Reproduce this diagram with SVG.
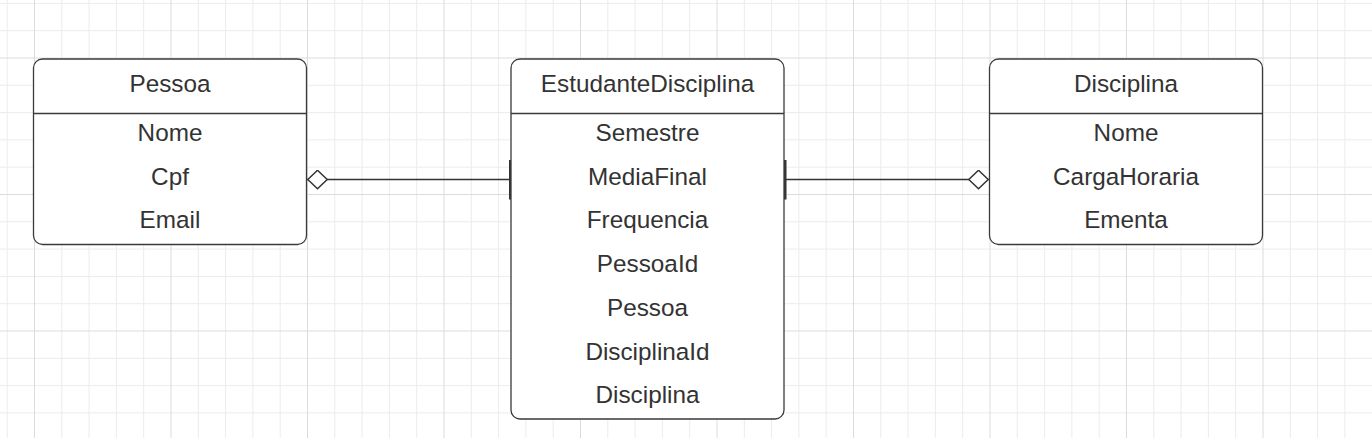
<svg xmlns="http://www.w3.org/2000/svg" width="1372" height="438" viewBox="0 0 1372 438">
<style>
.minor{stroke:#ececec;stroke-width:1;fill:none}
.major{stroke:#dcdcdc;stroke-width:1;fill:none}
.box{fill:#ffffff;stroke:#3a3a3a;stroke-width:1.3}
.div{stroke:#3a3a3a;stroke-width:1.3}
.t{font-family:"Liberation Sans",Arial,sans-serif;font-size:24.3px;fill:#333333;text-anchor:middle}
.conn{stroke:#333333;stroke-width:1.5;fill:none}
</style>
<defs>
<marker id="diamond" viewBox="0 0 21 20" refX="0.5" refY="10" markerWidth="21" markerHeight="20" markerUnits="userSpaceOnUse" orient="auto">
<path d="M0.8 10 L10.5 0.8 L20.2 10 L10.5 19.2 Z" fill="#ffffff" stroke="#333333" stroke-width="1.5"/>
</marker>
<marker id="bar" viewBox="0 0 3 40" refX="1.5" refY="20" markerWidth="3" markerHeight="40" markerUnits="userSpaceOnUse" orient="auto">
<rect x="0" y="0" width="3" height="40" fill="#333333"/>
</marker>
</defs>
<rect width="1372" height="438" fill="#ffffff"/>
<g id="grid">
<path class="minor" d="M7.2 0V438M61.8 0V438M89.1 0V438M116.4 0V438M143.7 0V438M198.3 0V438M225.6 0V438M252.9 0V438M280.2 0V438M334.8 0V438M362.1 0V438M389.4 0V438M416.7 0V438M471.3 0V438M498.6 0V438M525.9 0V438M553.2 0V438M607.8 0V438M635.1 0V438M662.4 0V438M689.7 0V438M744.3 0V438M771.6 0V438M798.9 0V438M826.2 0V438M880.8 0V438M908.1 0V438M935.4 0V438M962.7 0V438M1017.3 0V438M1044.6 0V438M1071.9 0V438M1099.2 0V438M1153.8 0V438M1181.1 0V438M1208.4 0V438M1235.7 0V438M1290.3 0V438M1317.6 0V438M1344.9 0V438M0 3.4H1372M0 30.7H1372M0 85.3H1372M0 112.6H1372M0 139.9H1372M0 167.2H1372M0 221.8H1372M0 249.1H1372M0 276.4H1372M0 303.7H1372M0 358.3H1372M0 385.6H1372M0 412.9H1372"/>
<path class="major" d="M34.5 0V438M171 0V438M307.5 0V438M444 0V438M580.5 0V438M717 0V438M853.5 0V438M990 0V438M1126.5 0V438M1263 0V438M0 58H1372M0 194.5H1372M0 331H1372"/>
</g>
<g id="connectors">
<path class="conn" d="M307.5 179.5H510.5" marker-start="url(#diamond)" marker-end="url(#bar)"/>
<path class="conn" d="M988.5 179.5H785" marker-start="url(#diamond)" marker-end="url(#bar)"/>
</g>
<g id="pessoa">
<rect class="box" x="33.5" y="59" width="273" height="185.5" rx="9"/>
<line class="div" x1="33.5" y1="113.5" x2="306.5" y2="113.5"/>
<text class="t" x="170" y="92">Pessoa</text>
<text class="t" x="170" y="141">Nome</text>
<text class="t" x="170" y="184.7">Cpf</text>
<text class="t" x="170" y="228.4">Email</text>
</g>
<g id="estudanteDisciplina">
<rect class="box" x="511" y="59" width="273" height="360" rx="9"/>
<line class="div" x1="511" y1="113.5" x2="784" y2="113.5"/>
<text class="t" x="647.5" y="92">EstudanteDisciplina</text>
<text class="t" x="647.5" y="141">Semestre</text>
<text class="t" x="647.5" y="184.7">MediaFinal</text>
<text class="t" x="647.5" y="228.4">Frequencia</text>
<text class="t" x="647.5" y="272.1">PessoaId</text>
<text class="t" x="647.5" y="315.8">Pessoa</text>
<text class="t" x="647.5" y="359.5">DisciplinaId</text>
<text class="t" x="647.5" y="403.2">Disciplina</text>
</g>
<g id="disciplina">
<rect class="box" x="989.5" y="59" width="273" height="185.5" rx="9"/>
<line class="div" x1="989.5" y1="113.5" x2="1262.5" y2="113.5"/>
<text class="t" x="1126" y="92">Disciplina</text>
<text class="t" x="1126" y="141">Nome</text>
<text class="t" x="1126" y="184.7">CargaHoraria</text>
<text class="t" x="1126" y="228.4">Ementa</text>
</g>
</svg>
